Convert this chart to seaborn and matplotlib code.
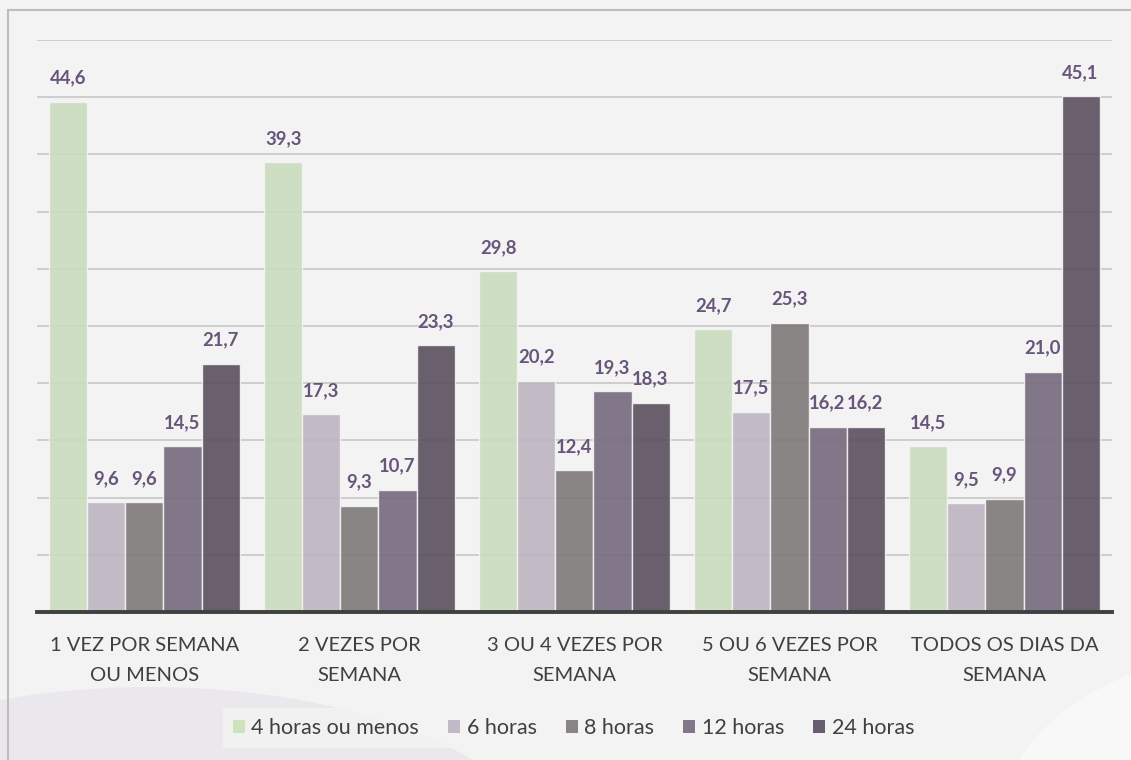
import numpy as np
import pandas as pd
import seaborn as sns
import matplotlib.pyplot as plt
from matplotlib.patches import Ellipse, Rectangle, Patch

# --- Data ---
categorias = [
    '1 VEZ POR SEMANA\nOU MENOS',
    '2 VEZES POR\nSEMANA',
    '3 OU 4 VEZES POR\nSEMANA',
    '5 OU 6 VEZES POR\nSEMANA',
    'TODOS OS DIAS DA\nSEMANA',
]
series = ['4 horas ou menos', '6 horas', '8 horas', '12 horas', '24 horas']
h4 = [44.6, 39.3, 29.8, 24.7, 14.5]
h6 = [9.6, 17.3, 20.2, 17.5, 9.5]
h8 = [9.6, 9.3, 12.4, 25.3, 9.9]
h12 = [14.5, 10.7, 19.3, 16.2, 21.0]
h24 = [21.7, 23.3, 18.3, 16.2, 45.1]

cores = ['#c9e1b8', '#bdb3c4', '#7d7877', '#77677f', '#5b4c61']
cor_rotulo = '#67557a'
cor_fundo = '#f3f3f3'

df = pd.DataFrame({
    'categoria': np.repeat(categorias, len(series)),
    'horas': series * len(categorias),
    'valor': [v for grupo in zip(h4, h6, h8, h12, h24) for v in grupo],
})

sns.set_style('white')
plt.rcParams['font.family'] = ['Lato', 'DejaVu Sans']

fig = plt.figure(figsize=(11.31, 7.60), dpi=100, facecolor=cor_fundo)

# decorative background shapes
fig.patches.append(Ellipse((0.1326, -0.138), 0.707, 0.468, transform=fig.transFigure,
                           facecolor='#eae8ec', edgecolor='none', zorder=0))
fig.patches.append(Ellipse((1.15, -0.08), 0.53, 0.47, transform=fig.transFigure,
                           facecolor='#f8f8f8', edgecolor='none', zorder=0))
# outer frame
fig.patches.append(Rectangle((0.0071, -0.2), 1.2, 0.9868 + 0.2, transform=fig.transFigure,
                             facecolor='none', edgecolor='#bdbdbd', linewidth=1.5, zorder=1))

ax = fig.add_axes([0.0327, 0.1947, 0.9505, 0.7526])
ax.set_facecolor('none')

sns.barplot(data=df, x='categoria', y='valor', hue='horas', palette=cores,
            width=0.884, edgecolor='#f4f4f4', linewidth=1.0, alpha=0.9,
            legend=False, ax=ax, zorder=3)

for cont, serie in zip(ax.containers, series):
    vals = df.loc[df['horas'] == serie, 'valor']
    ax.bar_label(cont, labels=[f'{v:.1f}'.replace('.', ',') for v in vals],
                 padding=11, fontsize=13.3, fontweight='bold', color=cor_rotulo)

ax.set_ylim(0, 50)
ax.set_xlim(-0.5, 4.5)
ax.set_yticks(np.arange(0, 51, 5))
ax.set_yticklabels([])
ax.yaxis.grid(True, color='#cbcbcb', linewidth=1.3, zorder=0)
ax.set_axisbelow(True)
ax.set_xlabel('')
ax.set_ylabel('')
ax.tick_params(axis='x', length=0, pad=18, labelsize=14.5, labelcolor='#404040')
ax.tick_params(axis='y', length=0)
for lbl in ax.get_xticklabels():
    lbl.set_linespacing(1.95)
for s in ['top', 'left', 'right']:
    ax.spines[s].set_visible(False)
ax.spines['bottom'].set_color('#404040')
ax.spines['bottom'].set_linewidth(2.8)
ax.spines['bottom'].set_zorder(5)

handles = [Patch(facecolor=c, edgecolor='none', alpha=0.9) for c in cores]
leg = fig.legend(handles, series, loc='center', bbox_to_anchor=(0.507, 0.042), ncol=5,
                 frameon=True, fontsize=15.5, handlelength=0.56, handleheight=0.56,
                 handletextpad=0.3, columnspacing=1.35, borderpad=0.45,
                 borderaxespad=0, fancybox=False)
leg.get_frame().set_facecolor('#f4f4f4')
leg.get_frame().set_edgecolor('none')
for t in leg.get_texts():
    t.set_color('#404040')

fig.savefig('out.png', dpi=100, facecolor=cor_fundo)
